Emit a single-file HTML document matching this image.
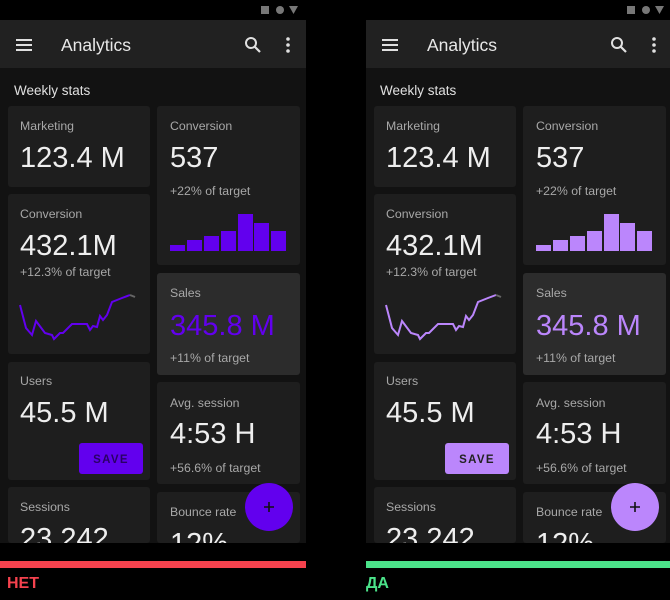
<!DOCTYPE html>
<html><head><meta charset="utf-8"><style>
html,body{margin:0;padding:0;background:#000;}
svg{display:block;font-family:"Liberation Sans",sans-serif;}
</style></head><body>
<svg width="670" height="600" viewBox="0 0 670 600" xmlns="http://www.w3.org/2000/svg">
<rect width="670" height="600" fill="#000"/>
<defs>
<g id="phone">
  <rect x="0" y="0" width="306" height="543" fill="#121212"/>
  <rect x="0" y="0" width="306" height="20" fill="#000"/>
  <rect x="261" y="6" width="8" height="8" fill="#777"/>
  <circle cx="280" cy="10" r="4" fill="#777"/>
  <polygon points="289,6 298,6 293.5,14" fill="#777"/>
  <rect x="0" y="20" width="306" height="48" fill="#212121"/>
  <rect x="16" y="39" width="16" height="2" fill="#e0e0e0"/>
  <rect x="16" y="44" width="16" height="2" fill="#e0e0e0"/>
  <rect x="16" y="49" width="16" height="2" fill="#e0e0e0"/>
  <text x="61" y="51" font-size="17.5" fill="#e8e8e8">Analytics</text>
  <circle cx="251" cy="43" r="5" fill="none" stroke="#e0e0e0" stroke-width="2"/>
  <line x1="255" y1="47" x2="260" y2="52" stroke="#e0e0e0" stroke-width="2.2"/>
  <circle cx="288" cy="39" r="1.8" fill="#e0e0e0"/>
  <circle cx="288" cy="45" r="1.8" fill="#e0e0e0"/>
  <circle cx="288" cy="51" r="1.8" fill="#e0e0e0"/>
  <text x="14" y="95" font-size="13.5" fill="#e0e0e0">Weekly stats</text>
  <rect x="8" y="106" width="142" height="81" rx="3" fill="#1e1e1e"/>
  <text x="20" y="130" font-size="12.3" fill="#a8a8a8">Marketing</text>
  <text x="20" y="167" font-size="29" fill="#eeeeee">123.4 M</text>
  <rect x="8" y="194" width="142" height="160" rx="3" fill="#1e1e1e"/>
  <text x="20" y="218" font-size="12.3" fill="#a8a8a8">Conversion</text>
  <text x="20" y="255" font-size="29" fill="#eeeeee">432.1M</text>
  <text x="20" y="276" font-size="12.3" fill="#a8a8a8">+12.3% of target</text>
  <rect x="8" y="362" width="142" height="118" rx="3" fill="#1e1e1e"/>
  <text x="20" y="385" font-size="12.3" fill="#a8a8a8">Users</text>
  <text x="20" y="422" font-size="29" fill="#eeeeee">45.5 M</text>
  <rect x="8" y="487" width="142" height="56" rx="3" fill="#1e1e1e"/>
  <text x="20" y="511" font-size="12.3" fill="#a8a8a8">Sessions</text>
  <text x="20" y="548" font-size="29" fill="#eeeeee">23,242</text>
  <rect x="157" y="106" width="143" height="159" rx="3" fill="#1e1e1e"/>
  <text x="170" y="130" font-size="12.3" fill="#a8a8a8">Conversion</text>
  <text x="170" y="167" font-size="29" fill="#eeeeee">537</text>
  <text x="170" y="195" font-size="12.3" fill="#a8a8a8">+22% of target</text>
  <rect x="157" y="273" width="143" height="102" rx="3" fill="#2c2c2c"/>
  <text x="170" y="297" font-size="12.3" fill="#a8a8a8">Sales</text>
  <text x="170" y="362" font-size="12.3" fill="#a8a8a8">+11% of target</text>
  <rect x="157" y="382" width="143" height="102" rx="3" fill="#1e1e1e"/>
  <text x="170" y="407" font-size="12.3" fill="#a8a8a8">Avg. session</text>
  <text x="170" y="443" font-size="29" fill="#eeeeee">4:53 H</text>
  <text x="170" y="472" font-size="12.3" fill="#a8a8a8">+56.6% of target</text>
  <rect x="157" y="492" width="143" height="51" rx="3" fill="#1e1e1e"/>
  <text x="170" y="516" font-size="12.3" fill="#a8a8a8">Bounce rate</text>
  <text x="170" y="553" font-size="29" fill="#eeeeee">12%</text>
  <rect x="0" y="543" width="306" height="20" fill="#000"/>
</g>
</defs>

<use href="#phone" x="0" y="0"/>
<use href="#phone" x="366" y="0"/>

<g fill="#6200ee">
  <rect x="170" y="245" width="15" height="6"/>
  <rect x="187" y="240" width="15" height="11"/>
  <rect x="204" y="236" width="15" height="15"/>
  <rect x="221" y="231" width="15" height="20"/>
  <rect x="238" y="214" width="15" height="37"/>
  <rect x="254" y="223" width="15" height="28"/>
  <rect x="271" y="231" width="15" height="20"/>
</g>
<polyline fill="none" stroke="#6200ee" stroke-width="2" points="20,305 26,328 32,335 36,321 45,333 52,335 54,339 60,333 63,333 72,324 87,324 90,330 93,326 97,327 100,316 103,320 107,315 112,302 122,298 130,295"/>
<line x1="130" y1="295" x2="135" y2="297" stroke="#666" stroke-width="2"/>
<text x="170" y="335" font-size="29" fill="#6200ee">345.8 M</text>
<rect x="79" y="443" width="64" height="31" rx="3" fill="#6200ee"/>
<text x="111" y="463" font-size="11.5" font-weight="bold" letter-spacing="1.3" text-anchor="middle" fill="#2a0066">SAVE</text>
<circle cx="269" cy="507" r="24" fill="#6200ee"/>
<path d="M264 507h10M269 502v10" stroke="#111" stroke-width="1.6"/>

<g fill="#bb86fc">
  <rect x="536" y="245" width="15" height="6"/>
  <rect x="553" y="240" width="15" height="11"/>
  <rect x="570" y="236" width="15" height="15"/>
  <rect x="587" y="231" width="15" height="20"/>
  <rect x="604" y="214" width="15" height="37"/>
  <rect x="620" y="223" width="15" height="28"/>
  <rect x="637" y="231" width="15" height="20"/>
</g>
<polyline fill="none" stroke="#bb86fc" stroke-width="2" points="386,305 392,328 398,335 402,321 411,333 418,335 420,339 426,333 429,333 438,324 453,324 456,330 459,326 463,327 466,316 469,320 473,315 478,302 488,298 496,295"/>
<line x1="496" y1="295" x2="501" y2="297" stroke="#666" stroke-width="2"/>
<text x="536" y="335" font-size="29" fill="#bb86fc">345.8 M</text>
<rect x="445" y="443" width="64" height="31" rx="3" fill="#bb86fc"/>
<text x="477" y="463" font-size="11.5" font-weight="bold" letter-spacing="1.3" text-anchor="middle" fill="#222">SAVE</text>
<circle cx="635" cy="507" r="24" fill="#bb86fc"/>
<path d="M630 507h10M635 502v10" stroke="#111" stroke-width="1.6"/>

<rect x="0" y="561" width="306" height="7" fill="#f5424e"/>
<rect x="366" y="561" width="304" height="7" fill="#4be38a"/>
<text x="7" y="588" font-size="16" font-weight="bold" fill="#f5424e">НЕТ</text>
<text x="366" y="588" font-size="16" font-weight="bold" fill="#4be38a">ДА</text>
</svg>
</body></html>
